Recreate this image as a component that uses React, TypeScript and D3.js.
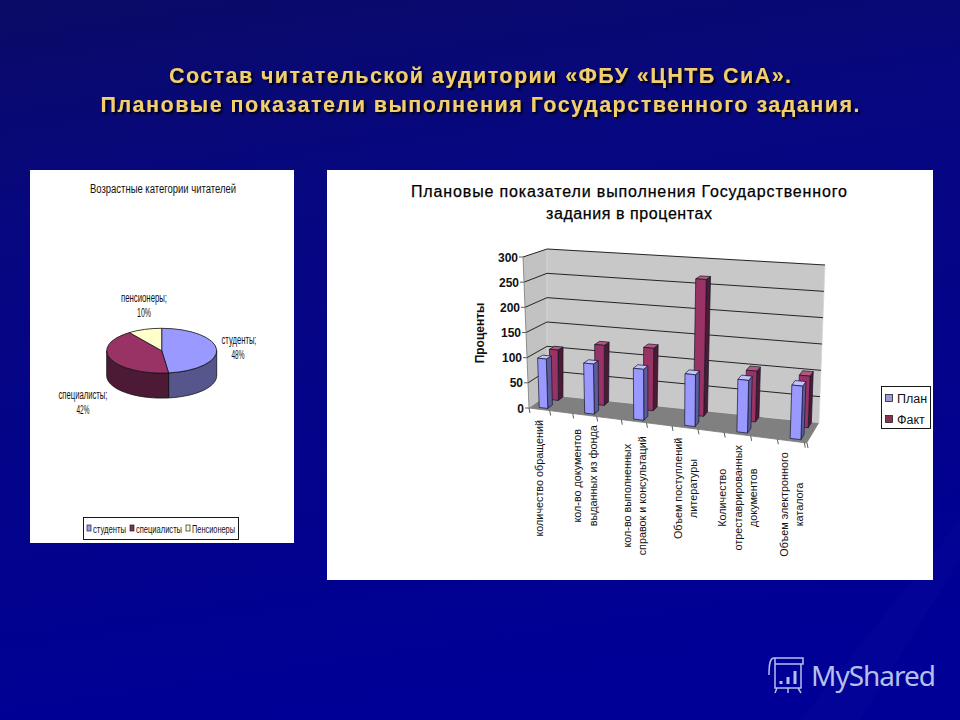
import { useEffect, useRef } from 'react'
import * as d3 from 'd3'

const titleLines = ['Состав читательской аудитории «ФБУ «ЦНТБ СиА».', 'Плановые показатели выполнения Государственного задания.']
const barTitleLines = ['Плановые показатели выполнения Государственного', 'задания в процентах']

const categories = [
  ['количество обращений'],
  ['кол-во документов', 'выданных из фонда'],
  ['кол-во выполненных', 'справок и консультаций'],
  ['Объем поступлений', 'литературы'],
  ['Количество', 'отреставрированных', 'документов'],
  ['Объем электронного', 'каталога'],
]
const planValues = [98, 98, 98, 98, 98, 98]
const factValues = [102, 120, 123, 265, 97, 97]
const valueTicks = [0, 50, 100, 150, 200, 250, 300]

const pieNames = ['студенты', 'специалисты', 'пенсионеры']
const pieLegend = ['студенты', 'специалисты', 'Пенсионеры']
const pieValues = [48, 42, 10]
const pieColors = ['#9999ff', '#993366', '#ffffcc']
const pieSideColors = ['#56568c', '#4c1a34', '#b0b08a']

type P = [number, number]

const lerp = (a: P, b: P, k: number): P => [a[0] + (b[0] - a[0]) * k, a[1] + (b[1] - a[1]) * k]

export default function App() {
  const svgRef = useRef<SVGSVGElement>(null)

  useEffect(() => {
    if (!svgRef.current) return
    const svg = d3.select(svgRef.current)
    svg.selectAll('*').remove()

    const font = '"Liberation Sans", Arial, sans-serif'
    const narrow = '"Liberation Sans Narrow", "Liberation Sans", Arial, sans-serif'

    // background
    const defs = svg.append('defs')
    const bg = defs.append('linearGradient').attr('id', 'bg').attr('x1', 0).attr('y1', 0).attr('x2', 0.2).attr('y2', 1)
    bg.append('stop').attr('offset', '0%').attr('stop-color', '#0a0a66')
    bg.append('stop').attr('offset', '30%').attr('stop-color', '#070780')
    bg.append('stop').attr('offset', '80%').attr('stop-color', '#02028f')
    bg.append('stop').attr('offset', '100%').attr('stop-color', '#000096')
    svg.append('rect').attr('width', 960).attr('height', 720).attr('fill', 'url(#bg)')
    svg.append('path').attr('d', 'M800 720L960 520V560L860 720Z').attr('fill', '#3a3ac0').attr('opacity', 0.06)

    // main title
    const shadow = defs.append('filter').attr('id', 'soft').attr('x', '-5%').attr('y', '-30%').attr('width', '110%').attr('height', '160%')
    shadow.append('feDropShadow').attr('dx', 2).attr('dy', 2).attr('stdDeviation', 0.8).attr('flood-color', '#000')
    const titleWidths = [622, 759]
    titleLines.forEach((line, i) => {
      svg.append('text').attr('x', 480).attr('y', 83 + i * 29).attr('text-anchor', 'middle')
        .attr('font-family', font).attr('font-weight', 700).attr('font-size', 21.5)
        .attr('fill', '#f2cf6c').attr('filter', 'url(#soft)')
        .attr('textLength', titleWidths[i]).attr('lengthAdjust', 'spacing').text(line)
    })

    // panels
    svg.append('rect').attr('x', 30).attr('y', 170).attr('width', 264).attr('height', 373).attr('fill', '#fff')
    svg.append('rect').attr('x', 327).attr('y', 170).attr('width', 606).attr('height', 410).attr('fill', '#fff')

    // --- pie ---
    const pieG = svg.append('g')
    const squeezed = (x: number, y: number, text: string, w: number, size = 12) =>
      pieG.append('text').attr('x', x).attr('y', y).attr('text-anchor', 'middle').attr('font-family', narrow)
        .attr('font-size', size).attr('fill', '#111').attr('textLength', w).attr('lengthAdjust', 'spacingAndGlyphs').text(text)

    squeezed(163, 193, 'Возрастные категории читателей', 146)

    const cx = 161.7, cy = 350.7, rx = 55, ry = 22.4, depth = 25
    const arcs = d3.pie<number>().sort(null)(pieValues)
    const onRim = (a: number, dy = 0): P => [cx + rx * Math.sin(a), cy - ry * Math.cos(a) + dy]

    // side walls, only the front half of the rim shows
    arcs.forEach((a, i) => {
      const from = Math.max(a.startAngle, Math.PI / 2)
      const to = Math.min(a.endAngle, (3 * Math.PI) / 2)
      if (from >= to) return
      const angles = d3.range(from, to, 0.03).concat(to)
      const pts = [...angles.map(t => onRim(t)), ...angles.slice().reverse().map(t => onRim(t, depth))]
      pieG.append('path').attr('d', d3.line()(pts) + 'Z').attr('fill', pieSideColors[i])
        .attr('stroke', '#111').attr('stroke-width', 0.8)
    })

    const arc = d3.arc<d3.PieArcDatum<number>>().innerRadius(0).outerRadius(rx)
    pieG.append('g').attr('transform', `translate(${cx},${cy}) scale(1,${ry / rx})`)
      .selectAll('path').data(arcs).enter().append('path')
      .attr('d', arc).attr('fill', (_, i) => pieColors[i])
      .attr('stroke', '#111').attr('stroke-width', 0.8).attr('vector-effect', 'non-scaling-stroke')

    const pieLabelPos: [number, number, number][] = [[239, 344, 35], [83, 399, 49], [144, 302, 46]]
    pieNames.forEach((name, i) => {
      const [x, y, w] = pieLabelPos[i]
      squeezed(x, y, `${name};`, w, 12)
      squeezed(x - (i === 0 ? 1 : 0), y + 15, `${pieValues[i]}%`, i === 2 ? 14 : 13, 12)
    })

    pieG.append('rect').attr('x', 83.5).attr('y', 517.5).attr('width', 155).attr('height', 22)
      .attr('fill', '#fff').attr('stroke', '#000').attr('stroke-width', 0.9)
    const legendX = [87, 130, 186]
    const legendW = [33, 46, 43]
    pieLegend.forEach((name, i) => {
      pieG.append('rect').attr('x', legendX[i]).attr('y', 525).attr('width', 4).attr('height', 6)
        .attr('fill', i === 1 ? '#7a3355' : pieColors[i]).attr('stroke', '#222').attr('stroke-width', 0.7)
      squeezed(legendX[i] + 6 + legendW[i] / 2, 533, name, legendW[i], 10)
    })

    // --- 3d columns ---
    const chart = svg.append('g')
    const barTitleWidths = [436, 166]
    barTitleLines.forEach((line, i) => {
      chart.append('text').attr('x', 629).attr('y', 197 + i * 22).attr('text-anchor', 'middle')
        .attr('font-family', font).attr('font-size', 16).attr('font-weight', 400)
        .attr('fill', '#000').attr('stroke', '#000').attr('stroke-width', 0.25)
        .attr('textLength', barTitleWidths[i]).attr('lengthAdjust', 'spacing').text(line)
    })

    // the corners of the box the bars stand in
    const floorFL: P = [529, 408], floorFR: P = [807, 443], floorBL: P = [547, 395], floorBR: P = [819, 423]
    const topFL: P = [523, 257], topFR: P = [813, 278], topBL: P = [547, 249], topBR: P = [825, 265]

    const xPos = d3.scalePow().exponent(1.08).domain([0, 5.55]).range([0, 1])
    const yPos = d3.scaleLinear().domain([0, 300]).range([0, 1])

    const pt = (t: number, z: number, v: number): P => {
      const floor = lerp(lerp(floorFL, floorFR, t), lerp(floorBL, floorBR, t), z)
      const top = lerp(lerp(topFL, topFR, t), lerp(topBL, topBR, t), z)
      return lerp(floor, top, yPos(v))
    }
    const poly = (pts: P[]) => d3.line()(pts) + 'Z'

    chart.append('path').attr('d', poly([pt(0, 0, 0), pt(0, 1, 0), pt(0, 1, 300), pt(0, 0, 300)])).attr('fill', '#c2c2c2')
    chart.append('path').attr('d', poly([pt(0, 1, 0), pt(1, 1, 0), pt(1, 1, 300), pt(0, 1, 300)])).attr('fill', '#c8c8c8')
      .attr('stroke', '#d8d8d8').attr('stroke-width', 0.8)
    chart.append('path').attr('d', poly([pt(0, 0, 0), pt(1, 0, 0), pt(1, 1, 0), pt(0, 1, 0)])).attr('fill', '#808080')

    valueTicks.forEach(v => {
      if (v > 0) {
        chart.append('path').attr('d', d3.line()([pt(0, 0, v), pt(0, 1, v), pt(1, 1, v)]))
          .attr('fill', 'none').attr('stroke', '#111').attr('stroke-width', 0.9)
      }
      const [x, y] = pt(0, 0, v)
      chart.append('line').attr('x1', x - 4).attr('x2', x).attr('y1', y).attr('y2', y).attr('stroke', '#333').attr('stroke-width', 0.8)
      chart.append('text').attr('x', x - 5).attr('y', y + 4.5).attr('text-anchor', 'end')
        .attr('font-family', font).attr('font-weight', 700).attr('font-size', 12).attr('fill', '#111').text(v)
    })
    chart.append('path').attr('d', d3.line()([pt(0, 0, 300), pt(0, 0, 0), pt(1, 0, 0)]))
      .attr('fill', 'none').attr('stroke', '#777').attr('stroke-width', 0.8)

    d3.range(0, 11.1).forEach(k => {
      const [x, y] = pt(xPos(k / 2), 0, 0)
      chart.append('line').attr('x1', x).attr('x2', x + 1).attr('y1', y).attr('y2', y + 5).attr('stroke', '#333').attr('stroke-width', 0.8)
    })
    const [endX, endY] = pt(1, 0, 0)
    chart.append('line').attr('x1', endX).attr('x2', endX + 1).attr('y1', endY).attr('y2', endY + 5).attr('stroke', '#333').attr('stroke-width', 0.8)

    const barWidth = 0.2
    const barOffset = 0.31
    const drawBars = (values: number[], z0: number, z1: number, front: string, side: string, top: string) => {
      values.forEach((v, i) => {
        const t0 = xPos(i + barOffset - barWidth / 2)
        const t1 = xPos(i + barOffset + barWidth / 2)
        const g = chart.append('g').attr('stroke', '#15152a').attr('stroke-width', 0.7).attr('stroke-linejoin', 'round')
        g.append('path').attr('d', poly([pt(t1, z0, 0), pt(t1, z1, 0), pt(t1, z1, v), pt(t1, z0, v)])).attr('fill', side)
        g.append('path').attr('d', poly([pt(t0, z0, v), pt(t1, z0, v), pt(t1, z1, v), pt(t0, z1, v)])).attr('fill', top)
        g.append('path').attr('d', poly([pt(t0, z0, 0), pt(t1, z0, 0), pt(t1, z0, v), pt(t0, z0, v)])).attr('fill', front)
      })
    }
    drawBars(factValues, 0.72, 0.98, '#993366', '#4d1a33', '#b3597f')
    drawBars(planValues, 0.12, 0.38, '#9999ff', '#5c5c99', '#c2c2ff')

    chart.append('text').attr('transform', 'translate(484,333) rotate(-90)').attr('text-anchor', 'middle')
      .attr('font-family', font).attr('font-weight', 700).attr('font-size', 12).attr('fill', '#111').text('Проценты')

    // rotated category labels, each block is centred on its longest line
    categories.forEach((lines, i) => {
      const [x, y] = pt(xPos(i + 0.26), 0, 0)
      const longest = d3.max(lines, l => l.length) as number
      const midY = y + 14 + (longest * 5.5) / 2
      lines.forEach((line, j) => {
        const lx = x + (j - (lines.length - 1) / 2) * 15.5 + 4
        chart.append('text').attr('transform', `translate(${lx},${midY}) rotate(-90)`).attr('text-anchor', 'middle')
          .attr('font-family', font).attr('font-size', 10.8).attr('fill', '#111').text(line)
      })
    })

    // legend
    chart.append('rect').attr('x', 881.5).attr('y', 386.5).attr('width', 49).attr('height', 42)
      .attr('fill', '#fff').attr('stroke', '#000').attr('stroke-width', 0.9)
    const seriesNames = ['План', 'Факт']
    const seriesColors = ['#9999dd', '#883355']
    seriesNames.forEach((name, i) => {
      const y = 398 + i * 21
      chart.append('rect').attr('x', 885.5).attr('y', y - 3.5).attr('width', 7).attr('height', 7)
        .attr('fill', seriesColors[i]).attr('stroke', '#222').attr('stroke-width', 0.8)
      chart.append('text').attr('x', 897).attr('y', y + 4.5).attr('font-family', font).attr('font-size', 12.5).attr('fill', '#111').text(name)
    })

    // watermark
    const mark = svg.append('g').attr('fill', 'none').attr('stroke', '#b4c0ea').attr('stroke-width', 1.5)
    mark.append('path').attr('d', 'M774 658H803V664H775M774 658C770 658 769 664 769 675M775 658V688H801V664M777 688L775 693M788 688V693M798 688L801 693')
    mark.append('path').attr('d', 'M781 684V681M788 684V677M795 684V671').attr('stroke-width', 3)
    svg.append('text').attr('x', 811).attr('y', 686).attr('font-family', '"Noto Sans", "Open Sans", sans-serif')
      .attr('font-size', 28).attr('fill', '#b4c0ea').attr('textLength', 125).text('MyShared')
  }, [])

  return (
    <>
      <style>{'body{margin:0}'}</style>
      <svg ref={svgRef} width={960} height={720} style={{ display: 'block' }} />
    </>
  )
}
